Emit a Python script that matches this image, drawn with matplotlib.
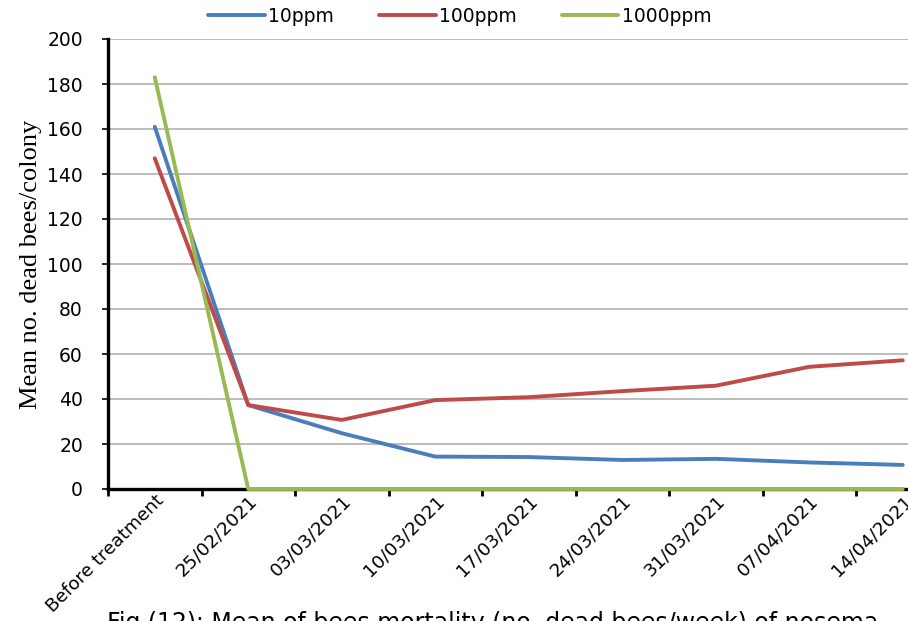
import numpy as np
import matplotlib
matplotlib.use("Agg")
import matplotlib.pyplot as plt

# weekly sampling dates
categories = ["Before treatment", "25/02/2021", "03/03/2021", "10/03/2021",
              "17/03/2021", "24/03/2021", "31/03/2021", "07/04/2021",
              "14/04/2021"]

# mean dead bees per colony for each concentration
ppm10 = [161, 37.3, 24.8, 14.4, 14.2, 12.9, 13.4, 11.8, 10.7]
ppm100 = [147, 37.3, 30.7, 39.5, 40.8, 43.5, 45.9, 54.3, 57.2]
ppm1000 = [183, 0, 0, 0, 0, 0, 0, 0, 0]

series = [("10ppm", ppm10, "#4A7EBB"),
          ("100ppm", ppm100, "#BE4B48"),
          ("1000ppm", ppm1000, "#98B954")]

W, H = 908, 621
fig = plt.figure(figsize=(W / 100, H / 100), dpi=100)
# plot area runs past the right edge, like the cropped source figure
ax = fig.add_axes([108 / W, (H - 489) / H, 841.5 / W, 450 / H])

x = np.arange(len(categories))
handles = []
for name, vals, col in series:
    h, = ax.plot(x, vals, color=col, lw=2.8, label=name, solid_capstyle="round",
                 clip_on=False, zorder=3)
    handles.append(h)

ax.set_xlim(-0.5, len(categories) - 0.5)
ax.set_ylim(0, 200)
ax.set_yticks(np.arange(0, 201, 20))
ax.yaxis.grid(True, color="#b0b0b0", lw=1.2)
ax.set_axisbelow(True)

# category ticks sit between the points
ax.set_xticks(np.arange(-0.5, len(categories) - 0.5, 1.0))
ax.set_xticklabels([])
ax.set_xticks(x, minor=True)
ax.set_xticklabels(categories, minor=True, rotation=45, ha="right",
                   rotation_mode="anchor", fontsize=13.2, family="DejaVu Sans")
ax.tick_params(axis="x", which="minor", length=0, pad=2)
ax.tick_params(axis="x", which="major", length=5, width=2, direction="out")
ax.tick_params(axis="y", length=4, width=1.2, direction="out", labelsize=13.5,
               pad=14)

for s in ["top", "right"]:
    ax.spines[s].set_visible(False)
ax.spines["left"].set_linewidth(2.4)
ax.spines["bottom"].set_linewidth(2.4)

ax.set_ylabel("Mean no. dead bees/colony", family="Liberation Serif",
              fontsize=19, labelpad=4)

fig.legend(handles=handles, loc="center", bbox_to_anchor=(460 / W, 1 - 16 / H),
           ncol=3, frameon=False, fontsize=13.5, handlelength=3.0,
           columnspacing=2.4, handletextpad=0.2)

fig.text(107 / W, 1 - 611 / H,
         "Fig (12): Mean of bees mortality (no. dead bees/week) of nosema",
         fontsize=17, va="top", ha="left")

fig.savefig("out.png", dpi=100)
